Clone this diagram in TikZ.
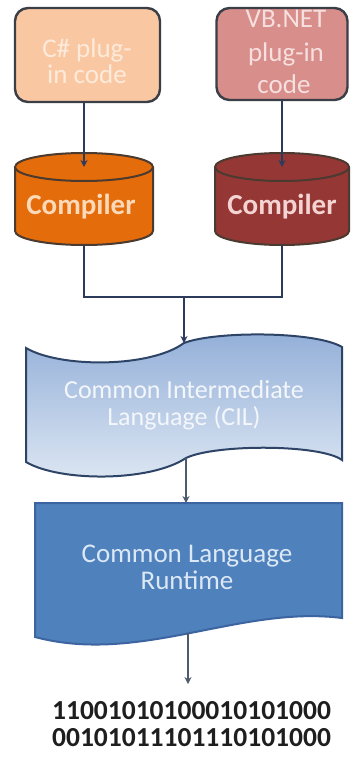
\documentclass[tikz,border=0pt]{standalone}
\usepackage{fontspec}
\setmainfont{Carlito}
\usetikzlibrary{arrows.meta,calc}
\definecolor{csfill}{HTML}{F9C8A3}
\definecolor{cstext}{HTML}{FDEADA}
\definecolor{vbfill}{HTML}{D88E8B}
\definecolor{vbtext}{HTML}{F6E0DF}
\definecolor{boxline}{HTML}{3A3E47}
\definecolor{orangec}{HTML}{E46C0A}
\definecolor{orangetext}{HTML}{FCD9B8}
\definecolor{redc}{HTML}{953735}
\definecolor{redtext}{HTML}{F4D4D2}
\definecolor{cylline}{HTML}{4A3A30}
\definecolor{conn}{HTML}{2C3B5C}
\definecolor{connlow}{HTML}{4E5B6E}
\definecolor{ciltop}{HTML}{93AFD8}
\definecolor{cilbot}{HTML}{DDE7F3}
\definecolor{cilline}{HTML}{2E4466}
\definecolor{cilfont}{HTML}{F3F6FB}
\definecolor{clrfill}{HTML}{4F81BD}
\definecolor{clrline}{HTML}{3B64A0}
\definecolor{clrtext}{HTML}{DCE8F5}
\definecolor{bintext}{HTML}{1E1E1E}
\begin{document}
\begin{tikzpicture}[x=1pt,y=-1pt,
  plugbox/.style={draw=boxline, line width=2.4pt, rounded corners=13pt, inner sep=0pt},
  lbl/.style={anchor=base, inner sep=0pt, font=\fontsize{27pt}{27pt}\selectfont},
  cillbl/.style={anchor=base, inner sep=0pt, font=\fontsize{26pt}{26pt}\selectfont},
  complbl/.style={anchor=base, inner sep=0pt, font=\fontsize{29pt}{29pt}\selectfont\bfseries},
  binlbl/.style={anchor=base, inner sep=0pt, text=bintext, font=\fontsize{27.5pt}{27.5pt}\selectfont\bfseries},
  cylbody/.style={draw=cylline, line width=2pt},
  conline/.style={draw=conn, line width=1.8pt},
  arr/.style={conline, -{Stealth[length=7pt,width=7pt]}},
  arrlow/.style={draw=connlow, line width=1.8pt, -{Stealth[length=7pt,width=7pt]}},
  tapeshape/.style={draw=cilline, line width=2pt, top color=ciltop, bottom color=cilbot},
  docshape/.style={draw=clrline, line width=2pt, fill=clrfill}
]
\useasboundingbox (0,0) rectangle (352,760);
\fill[white] (0,0) rectangle (352,760);

% plug-in code boxes
\node[plugbox, fill=csfill, minimum width=145pt, minimum height=94pt] (cs) at (87.5,55) {};
\node[plugbox, fill=vbfill, minimum width=131pt, minimum height=92pt] (vb) at (282,54) {};
\node[lbl, text=cstext] (cs1) at (87,57) {C\# plug-};
\node[lbl, text=cstext] (cs2) at (87,84) {in code};
\node[lbl, text=vbtext] (vb1) at (286,28) {VB.NET};
\node[lbl, text=vbtext] (vb2) at (286,62) {plug-in};
\node[lbl, text=vbtext] (vb3) at (284,93) {code};

% left compiler cylinder
\fill[orangec] (15,167) rectangle (153,231);
\fill[orangec] (84,231) ellipse [x radius=69pt, y radius=14pt];
\draw[cylbody] (15,167) -- (15,231) arc[start angle=180, end angle=360, x radius=69pt, y radius=14pt] -- (153,167);
\draw[cylbody, fill=orangec] (84,167) ellipse [x radius=69pt, y radius=14pt];
\coordinate (c1top) at (84,167);
\coordinate (c1bot) at (84,245);
\node[complbl, text=orangetext] (comp1) at (81,214) {Compiler};

% right compiler cylinder
\fill[redc] (215,167) rectangle (349,231);
\fill[redc] (282,231) ellipse [x radius=67pt, y radius=14pt];
\draw[cylbody] (215,167) -- (215,231) arc[start angle=180, end angle=360, x radius=67pt, y radius=14pt] -- (349,167);
\draw[cylbody, fill=redc] (282,167) ellipse [x radius=67pt, y radius=14pt];
\coordinate (c2top) at (282,167);
\coordinate (c2bot) at (282,245);
\node[complbl, text=redtext] (comp2) at (282,214) {Compiler};

% arrows into compilers
\draw[arr] (c1top |- cs.south) -- (c1top);
\draw[arr] (c2top |- vb.south) -- (c2top);

% CIL tape shape
\draw[tapeshape] (26,348) .. controls (60,368) and (150,368) .. (184,343)
  .. controls (215,331) and (315,331) .. (342,347) -- (342,460)
  .. controls (320,444) and (215,444) .. (186,458)
  .. controls (150,482) and (60,482) .. (26,462) -- cycle;
\coordinate (ciltop) at (184,343);
\coordinate (cilbot) at (186,458);
\node[cillbl, text=cilfont] (cil1) at (184,398) {Common Intermediate};
\node[cillbl, text=cilfont] (cil2) at (184,425) {Language (CIL)};

% joining connector
\coordinate (join) at (184,297);
\draw[conline] (c1bot) |- (c2bot |- join) -- (c2bot);
\draw[arr] (join) -- (ciltop);

% CLR document shape
\draw[docshape] (35,503) -- (342,503) -- (342,618)
  .. controls (240,605) and (140,665) .. (35,637) -- cycle;
\coordinate (clrtop) at (186,503);
\coordinate (clrbot) at (188,633);
\node[lbl, text=clrtext] (clr1) at (187,562) {Common Language};
\node[lbl, text=clrtext] (clr2) at (187,589) {Runtime};
\draw[arrlow] (cilbot) -- (clrtop);

% output
\coordinate (outend) at (188,684);
\draw[arrlow] (clrbot) -- (outend);
\node[binlbl] (bin1) at (191.5,719) {11001010100010101000};
\node[binlbl] (bin2) at (191.5,746) {00101011101110101000};
\end{tikzpicture}
\end{document}
